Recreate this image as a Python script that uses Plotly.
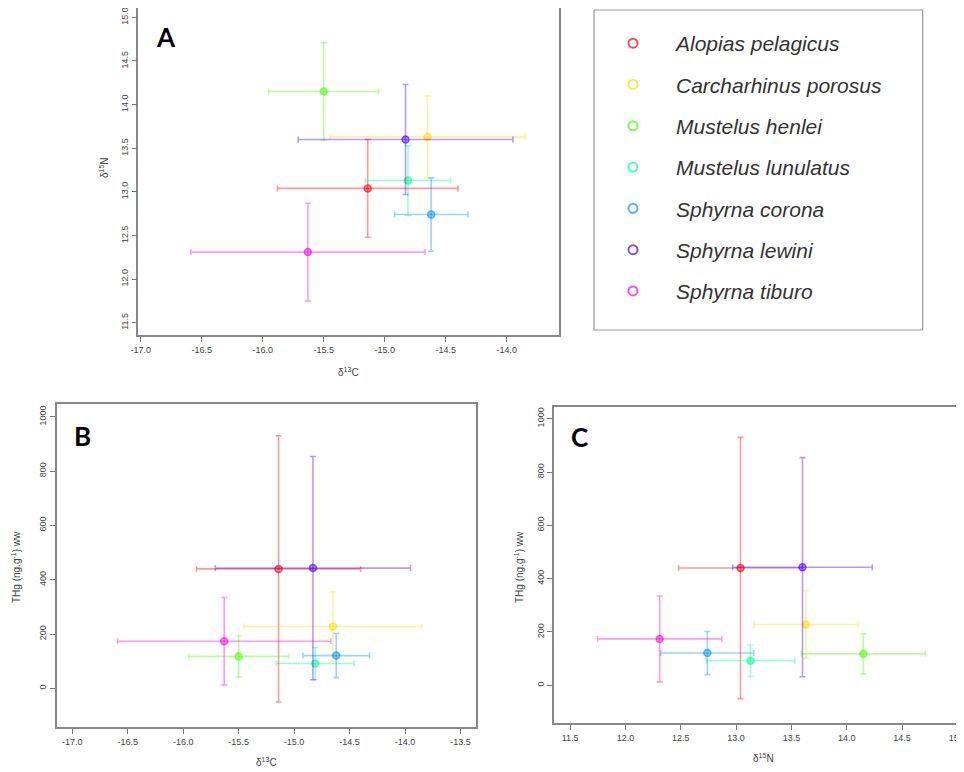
import plotly.graph_objects as go

species = ["Alopias pelagicus", "Carcharhinus porosus", "Mustelus henlei",
           "Mustelus lunulatus", "Sphyrna corona", "Sphyrna lewini", "Sphyrna tiburo"]
d13C_mean = [-15.14, -14.65, -15.50, -14.81, -14.62, -14.83, -15.63]
d13C_sd = [0.74, 0.80, 0.45, 0.35, 0.30, 0.88, 0.96]
d15N_mean = [13.04, 13.63, 14.15, 13.13, 12.74, 13.60, 12.31]
d15N_sd = [0.56, 0.47, 0.56, 0.40, 0.42, 0.63, 0.56]
thg_mean = [440, 228, 118, 92, 121, 443, 174]
thg_sd = [490, 127, 76, 59, 81, 411, 161]

rgb = [(255, 0, 0), (255, 219, 0), (73, 255, 0), (0, 255, 146),
       (0, 146, 255), (73, 0, 255), (255, 0, 219)]

# the page body has an 8px default margin, so the figure is offset by 8px
OFF = 8
W, H = 964 - OFF, 772 - OFF
def px(x): return (x - OFF) / W
def py(y): return 1 - (y - OFF) / H

fig = go.Figure()

panels = [
    ("x", "y", d13C_mean, d13C_sd, d15N_mean, d15N_sd),
    ("x2", "y2", d13C_mean, d13C_sd, thg_mean, thg_sd),
    ("x3", "y3", d15N_mean, d15N_sd, thg_mean, thg_sd),
]
for xa, ya, xm, xs, ym, ys in panels:
    for i, sp in enumerate(species):
        r, g, b = rgb[i]
        line_c = f"rgba({r},{g},{b},0.4)"
        fig.add_trace(go.Scatter(
            x=[xm[i]], y=[ym[i]], xaxis=xa, yaxis=ya, mode="markers",
            name=sp, showlegend=False, hoverinfo="name+x+y",
            marker=dict(symbol="circle", size=7, color=f"rgba({r},{g},{b},0.45)",
                        line=dict(color=f"rgba({r},{g},{b},0.6)", width=1.5)),
            error_x=dict(type="data", array=[xs[i]], color=line_c, thickness=1.6, width=3),
            error_y=dict(type="data", array=[ys[i]], color=line_c, thickness=1.6, width=3),
        ))

# legend-only entries (open circles)
for i, sp in enumerate(species):
    r, g, b = rgb[i]
    fig.add_trace(go.Scatter(
        x=[None], y=[None], mode="markers", name=sp, legendgroup=sp,
        marker=dict(symbol="circle-open", size=9, color=f"rgba({r},{g},{b},0.7)",
                    line=dict(width=2)),
    ))

axis_common = dict(showgrid=False, zeroline=False, ticks="outside", ticklen=5,
                   tickcolor="#777", tickwidth=1, showline=True, linecolor="#888",
                   linewidth=1.5, automargin=False, ticklabeloverflow="allow",
                   tickfont=dict(family="Liberation Sans", size=9, color="#444"))

def ticks(vals, fmt):
    return dict(tickmode="array", tickvals=vals, ticktext=[fmt.format(v) for v in vals])

xA = [-17.0, -16.5, -16.0, -15.5, -15.0, -14.5, -14.0]
yA = [11.5, 12.0, 12.5, 13.0, 13.5, 14.0, 14.5, 15.0]
xB = [-17.0, -16.5, -16.0, -15.5, -15.0, -14.5, -14.0, -13.5]
yB = [0, 200, 400, 600, 800, 1000]
xC = [11.5, 12.0, 12.5, 13.0, 13.5, 14.0, 14.5, 15.0]

fig.update_layout(
    width=W, height=H, margin=dict(l=0, r=0, t=0, b=0, autoexpand=False),
    paper_bgcolor="white", plot_bgcolor="white",
    xaxis=dict(domain=[px(138.3), px(559.3)], range=[-17.02, -13.57], anchor="y",
               mirror=True, **ticks(xA, "{:.1f}"), **axis_common),
    yaxis=dict(domain=[py(335), py(8)], range=[11.36, 15.107], anchor="x",
               mirror=True, tickangle=-90, **ticks(yA, "{:.1f}"), **axis_common),
    xaxis2=dict(domain=[px(56.7), px(476)], range=[-17.14, -13.36], anchor="y2",
                mirror=True, **ticks(xB, "{:.1f}"), **axis_common),
    yaxis2=dict(domain=[py(727.3), py(404)], range=[-143, 1047], anchor="x2",
                mirror=True, tickangle=-90, **ticks(yB, "{:d}"), **axis_common),
    xaxis3=dict(domain=[px(554), 1.0], range=[11.355, 15.059], anchor="y3",
                mirror=True, **ticks(xC, "{:.1f}"), **axis_common),
    yaxis3=dict(domain=[py(723.3), py(406.7)], range=[-142.5, 1045], anchor="x3",
                mirror=False, tickangle=-90, **ticks(yB, "{:d}"), **axis_common),
    legend=dict(x=px(590), y=py(23), xanchor="left", yanchor="top",
                bgcolor="rgba(0,0,0,0)", borderwidth=0, itemwidth=76,
                tracegroupgap=11, traceorder="grouped",
                font=dict(family="Liberation Sans", size=21, color="#333", style="italic")),
    showlegend=True,
)

fig.add_shape(type="rect", xref="paper", yref="paper",
              x0=px(594), x1=px(922.7), y0=py(330), y1=py(10),
              line=dict(color="#999", width=1.2), fillcolor="rgba(0,0,0,0)")

ann_font = dict(family="Liberation Sans", size=10, color="#444")
annots = [
    ("δ<sup>13</sup>C", 348, 372, 0),
    ("δ<sup>15</sup>N", 104, 168, -90),
    ("δ<sup>13</sup>C", 266.7, 762, 0),
    ("THg (ng.g<sup>-1</sup>) ww", 16, 567, -90),
    ("δ<sup>15</sup>N", 763, 758, 0),
    ("THg (ng.g<sup>-1</sup>) ww", 519, 567, -90),
]
for t, x, y, ang in annots:
    fig.add_annotation(text=t, x=px(x), y=py(y), xref="paper", yref="paper",
                       showarrow=False, textangle=ang, font=ann_font,
                       xanchor="center", yanchor="middle")

for t, x, y in [("A", 166, 37), ("B", 82, 436), ("C", 579, 437)]:
    fig.add_annotation(text=f"<b>{t}</b>", x=px(x), y=py(y), xref="paper", yref="paper",
                       showarrow=False, font=dict(family="Lato", size=26, color="black"),
                       xanchor="center", yanchor="middle")

fig.write_html("out.html")
